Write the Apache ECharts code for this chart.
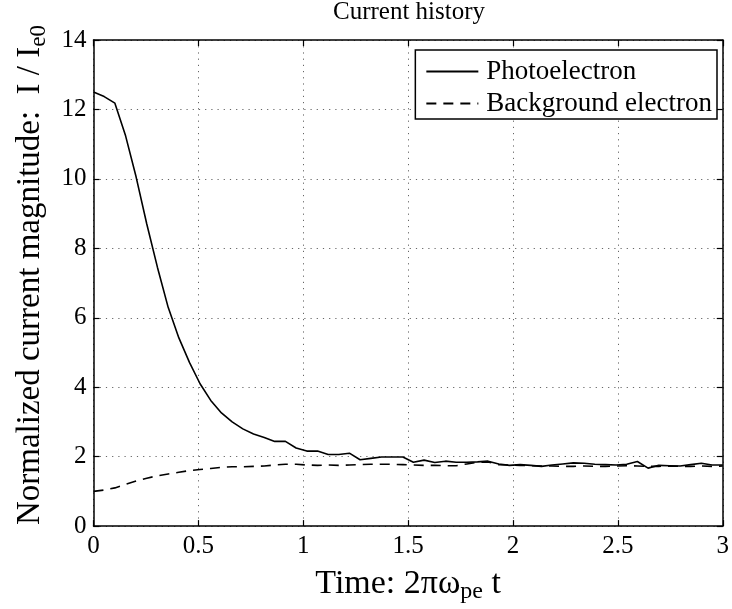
<!DOCTYPE html>
<html>
<head>
<meta charset="utf-8">
<script src="https://cdn.jsdelivr.net/npm/echarts@6/dist/echarts.min.js"></script>
<style>
html,body{margin:0;padding:0;background:#fff;}
#chart{width:732px;height:609px;}
</style>
</head>
<body>
<div id="chart"></div>
<script>
// Time samples (2*pi*omega_pe*t)
const times = [0.000,0.051,0.102,0.153,0.203,0.254,0.305,0.356,0.407,0.458,
  0.508,0.559,0.610,0.661,0.712,0.763,0.814,0.864,0.915,0.966,
  1.017,1.068,1.119,1.169,1.220,1.271,1.322,1.373,1.424,1.475,
  1.525,1.576,1.627,1.678,1.729,1.780,1.831,1.881,1.932,1.983,
  2.034,2.085,2.136,2.186,2.237,2.288,2.339,2.390,2.441,2.492,
  2.542,2.593,2.644,2.695,2.746,2.797,2.847,2.898,2.949,3.000];

const photoelectron = [12.50,12.37,12.18,11.24,10.06,8.70,7.45,6.30,5.42,4.71,
  4.10,3.62,3.26,3.00,2.80,2.65,2.55,2.44,2.44,2.25,
  2.16,2.16,2.06,2.06,2.10,1.91,1.95,1.99,1.99,1.99,
  1.84,1.90,1.83,1.87,1.84,1.84,1.85,1.87,1.79,1.75,
  1.77,1.75,1.72,1.76,1.79,1.82,1.81,1.78,1.77,1.76,
  1.78,1.86,1.67,1.75,1.74,1.73,1.77,1.81,1.76,1.76];

const background = [1.00,1.04,1.10,1.20,1.30,1.38,1.45,1.50,1.55,1.60,
  1.63,1.66,1.69,1.71,1.71,1.72,1.73,1.76,1.78,1.78,
  1.76,1.75,1.76,1.75,1.76,1.77,1.78,1.78,1.78,1.77,
  1.76,1.75,1.75,1.74,1.74,1.79,1.84,1.85,1.77,1.76,
  1.75,1.74,1.73,1.73,1.72,1.72,1.73,1.72,1.72,1.73,
  1.74,1.73,1.72,1.72,1.73,1.72,1.72,1.73,1.72,1.73];

const seriesNames = ['Photoelectron', 'Background electron'];
const xTicks = [0, 0.5, 1, 1.5, 2, 2.5, 3];
const yTicks = [0, 2, 4, 6, 8, 10, 12, 14];
const titleText = 'Current history';

const FONT = '"Liberation Serif", "Times New Roman", serif';
const chart = echarts.init(document.getElementById('chart'), null, {renderer: 'canvas'});

const pairs = (ys) => times.map((t, i) => [t, ys[i]]);
const gridLine = {show: true, lineStyle: {color: '#666', width: 1, type: [1.2, 5]}};
const tickFont = 25;

const option = {
  backgroundColor: '#fff',
  animation: false,
  title: {
    text: titleText,
    left: 409,
    top: 0,
    padding: 0,
    textAlign: 'center',
    textStyle: {fontFamily: FONT, fontSize: 25, fontWeight: 'normal', color: '#000'}
  },
  grid: {left: 93.5, right: 6.5, top: 40, bottom: 71.5, containLabel: false},
  legend: {
    orient: 'vertical',
    right: 15,
    top: 50,
    padding: [7, 5, 1, 10],
    itemGap: 3,
    itemWidth: 52,
    itemHeight: 14,
    borderColor: '#000',
    borderWidth: 1.5,
    backgroundColor: '#fff',
    itemStyle: {opacity: 0},
    data: seriesNames,
    textStyle: {fontFamily: FONT, fontSize: 27, color: '#000', lineHeight: 29, padding: [0, 0, 0, 3]}
  },
  xAxis: [{
    type: 'value', min: 0, max: 3, interval: 0.5,
    position: 'bottom',
    name: 'Time: 2πω{sub|pe} t',
    nameLocation: 'middle',
    nameGap: 25,
    nameTextStyle: {
      fontFamily: FONT, fontSize: 34, color: '#000', lineHeight: 40,
      rich: {sub: {fontFamily: FONT, fontSize: 24, verticalAlign: 'bottom', lineHeight: 24, color: '#000'}}
    },
    axisLine: {show: true, onZero: false, lineStyle: {color: '#000', width: 1.5}},
    axisTick: {show: true, inside: true, length: 6, lineStyle: {color: '#000', width: 1.2}},
    axisLabel: {fontFamily: FONT, fontSize: tickFont, color: '#000', margin: 8,
      formatter: (v) => xTicks.includes(v) ? String(v) : ''},
    splitLine: gridLine
  }, {
    type: 'value', min: 0, max: 3, interval: 0.5,
    position: 'top',
    axisLine: {show: true, onZero: false, lineStyle: {color: '#000', width: 1.5}},
    axisTick: {show: true, inside: true, length: 6, lineStyle: {color: '#000', width: 1.2}},
    axisLabel: {show: false},
    splitLine: {show: false}
  }],
  yAxis: [{
    type: 'value', min: 0, max: 14, interval: 2,
    position: 'left',
    name: 'Normalized current magnitude:  I / I{sub|e0}',
    nameLocation: 'middle',
    nameGap: 43,
    nameTextStyle: {
      fontFamily: FONT, fontSize: 33, color: '#000', lineHeight: 41,
      padding: [0, 0, 0, 16],
      rich: {sub: {fontFamily: FONT, fontSize: 23, verticalAlign: 'bottom', lineHeight: 23, color: '#000'}}
    },
    axisLine: {show: true, onZero: false, lineStyle: {color: '#000', width: 1.5}},
    axisTick: {show: true, inside: true, length: 6, lineStyle: {color: '#000', width: 1.2}},
    axisLabel: {fontFamily: FONT, fontSize: tickFont, color: '#000', margin: 7,
      formatter: (v) => yTicks.includes(v) ? String(v) : ''},
    splitLine: gridLine
  }, {
    type: 'value', min: 0, max: 14, interval: 2,
    position: 'right',
    axisLine: {show: true, onZero: false, lineStyle: {color: '#000', width: 1.5}},
    axisTick: {show: true, inside: true, length: 6, lineStyle: {color: '#000', width: 1.2}},
    axisLabel: {show: false},
    splitLine: {show: false}
  }],
  series: [{
    name: seriesNames[0],
    type: 'line',
    data: pairs(photoelectron),
    showSymbol: false,
    symbol: 'none',
    lineStyle: {color: '#000', width: 1.6, type: 'solid'},
    itemStyle: {color: '#000'},
    z: 3
  }, {
    name: seriesNames[1],
    type: 'line',
    data: pairs(background),
    showSymbol: false,
    symbol: 'none',
    lineStyle: {color: '#000', width: 1.6, type: [10, 7]},
    itemStyle: {color: '#000'},
    z: 3
  }]
};
chart.setOption(option);
</script>
</body>
</html>
